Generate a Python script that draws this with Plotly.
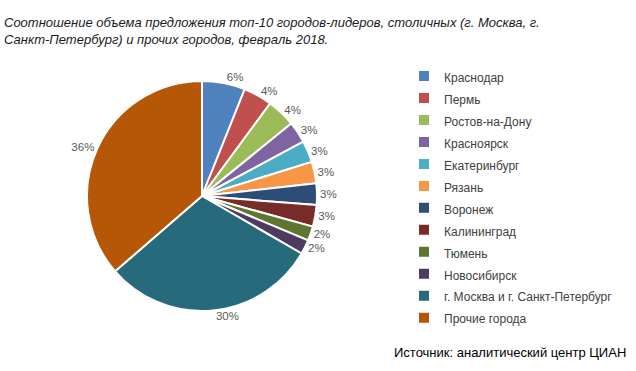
import plotly.graph_objects as go

labels = ["Краснодар", "Пермь", "Ростов-на-Дону", "Красноярск", "Екатеринбург",
          "Рязань", "Воронеж", "Калининград", "Тюмень", "Новосибирск",
          "г. Москва и г. Санкт-Петербург", "Прочие города"]
values = [6, 4, 4, 3, 3, 3, 3, 3, 2, 2, 30, 36]
colors = ["#4F81BD", "#C0504D", "#9BBB59", "#8064A2", "#4BACC6", "#F79646",
          "#2C4D75", "#772C2A", "#5F7530", "#4D3B62", "#276A7C", "#B65708"]

title_text = ("Соотношение объема предложения топ-10 городов-лидеров, столичных (г. Москва, г.<br>"
              "Санкт-Петербург) и прочих городов, февраль 2018.")
source_text = "Источник: аналитический центр ЦИАН"

W, H = 636, 371
cx, cy, r = 202, 196, 115

legend_labels = ["<span style='font-size:12px'>%s</span>" % l for l in labels]

fig = go.Figure(go.Pie(
    labels=legend_labels,
    values=values,
    sort=False,
    direction="clockwise",
    rotation=0,
    marker=dict(colors=colors, line=dict(color="white", width=2)),
    textinfo="percent",
    texttemplate="%{percent:.0%}",
    textposition="outside",
    outsidetextfont=dict(color="#595959", size=11.5, family="Liberation Sans, Arial"),
    hoverinfo="label+value",
    domain=dict(x=[(cx - r) / W, (cx + r) / W], y=[(H - cy - r) / H, (H - cy + r) / H]),
))

fig.update_layout(
    width=W, height=H,
    margin=dict(l=0, r=0, t=0, b=0),
    paper_bgcolor="white",
    font=dict(family="Liberation Sans, Arial", color="#404040"),
    title=dict(text=title_text, x=4 / W, xanchor="left", xref="paper",
               y=1 - 27 / H, yanchor="top", yref="container",
               font=dict(size=13, style="italic", color="#1a1a1a",
                         family="Liberation Sans, Arial")),
    legend=dict(x=404 / W, xanchor="left", y=1 - 60 / H, yanchor="top",
                font=dict(size=14.6, color="#404040", family="Liberation Sans, Arial"),
                itemwidth=30, tracegroupgap=0),
    annotations=[dict(text=source_text, x=628 / W, y=1 - 352 / H, xref="paper", yref="paper",
                      xanchor="right", yanchor="middle", showarrow=False,
                      font=dict(size=13, color="black", family="Liberation Sans, Arial"))],
)

fig.write_html("out.html", config={"displayModeBar": False},
               post_script="document.body.style.margin='0px';")
